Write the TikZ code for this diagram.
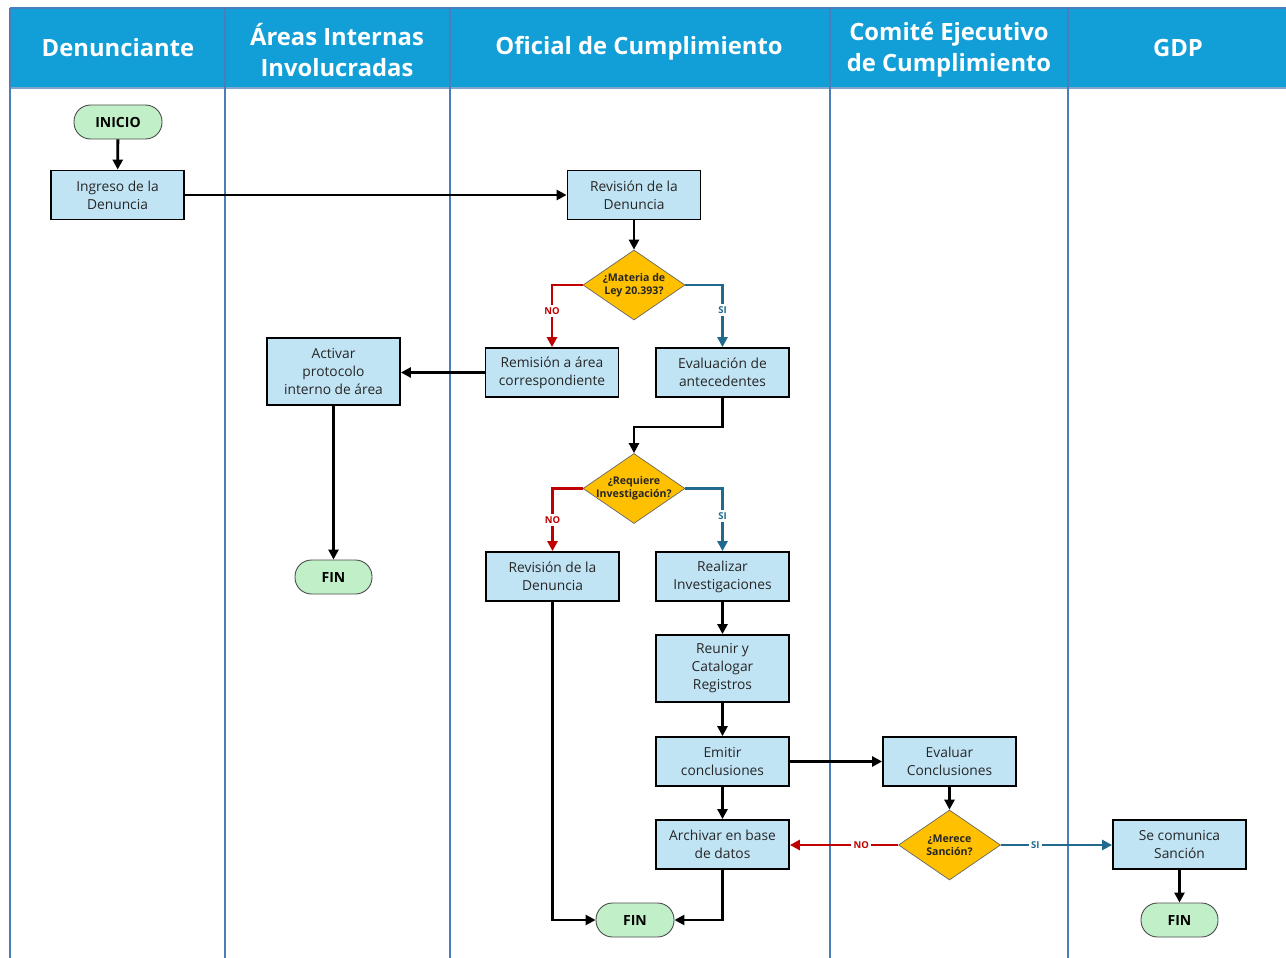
\documentclass[tikz,border=0pt]{standalone}
\usepackage{fontspec}
\setmainfont{Open Sans}
\usetikzlibrary{shapes.geometric,arrows.meta}
\definecolor{hdr}{HTML}{129FD7}
\definecolor{lane}{HTML}{4A7EBB}
\definecolor{boxf}{HTML}{C1E4F5}
\definecolor{termf}{HTML}{C1F0C8}
\definecolor{diaf}{HTML}{FFC000}
\definecolor{nored}{HTML}{C00000}
\definecolor{siblue}{HTML}{1F6A8E}
\definecolor{txtgray}{HTML}{262626}
\begin{document}
\begin{tikzpicture}[x=1pt,y=-1pt,
  hdrtext/.style={text=white, align=center, font=\bfseries\fontsize{23.8}{31}\selectfont},
  procbox/.style={draw=black, line width=1.8pt, fill=boxf, minimum width=133pt, minimum height=49pt, align=center, text=txtgray, inner sep=2pt, font=\fontsize{13.8}{18}\selectfont},
  term/.style={draw=black!70, line width=0.9pt, fill=termf, rounded corners=16.5pt, minimum height=34pt, inner sep=2pt, font=\bfseries\fontsize{14}{16}\selectfont},
  dia/.style={diamond, draw=black!60, line width=0.7pt, fill=diaf, minimum width=102pt, minimum height=70pt, inner sep=0pt},
  dtext/.style={align=center, text=txtgray, font=\bfseries\fontsize{10.6}{13}\selectfont},
  arr/.style={line width=2.8pt, draw=black, -{Triangle[length=10pt,width=10pt]}},
  noarr/.style={line width=2.8pt, draw=nored, -{Triangle[length=10pt,width=10pt]}},
  siarr/.style={line width=2.8pt, draw=siblue, -{Triangle[length=10pt,width=10pt]}},
  nolab/.style={fill=white, text=nored, inner sep=2.5pt, font=\bfseries\fontsize{9.5}{10}\selectfont},
  silab/.style={fill=white, text=siblue, inner sep=2.5pt, font=\bfseries\fontsize{9.5}{10}\selectfont},
  laneline/.style={draw=lane, line width=1.8pt}
]
\useasboundingbox (0,0) rectangle (1286,958);
% header and lanes
\fill[hdr] (10,8) rectangle (1286,88);
\draw[laneline] (10,8) -- (1286,8);
\draw[draw=lane!70, line width=1.5pt] (10,88) -- (1286,88);
\foreach \lx in {10,225,450,830,1068} {\draw[laneline] (\lx,8) -- (\lx,958);}
\node[hdrtext] (h1) at (118,48) {Denunciante};
\node[hdrtext] (h2) at (337,50) {Áreas Internas\\Involucradas};
\node[hdrtext] (h3) at (639,48) {Oficial de Cumplimiento};
\node[hdrtext] (h4) at (949,50) {Comité Ejecutivo\\de Cumplimiento};
\node[hdrtext] (h5) at (1178,48) {GDP};
% nodes
\node[term, minimum width=88pt] (inicio) at (118,122) {INICIO};
\node[procbox] (ingreso) at (117.5,195) {Ingreso de la\\Denuncia};
\node[procbox] (rev1) at (634,195) {Revisión de la\\Denuncia};
\node[dia, label={[dtext]center:{¿Materia de\\Ley 20.393?}}] (d1) at (634,285) {};
\node[procbox] (remision) at (552,372.5) {Remisión a área\\correspondiente};
\node[procbox] (evalant) at (722.5,372.5) {Evaluación de\\antecedentes};
\node[procbox, minimum height=67pt] (activar) at (333.5,371.5) {Activar\\protocolo\\interno de área};
\node[term, minimum width=77pt] (fin1) at (333.5,577) {FIN};
\node[dia, label={[dtext]center:{¿Requiere\\Investigación?}}] (d2) at (634,488.5) {};
\node[procbox] (rev2) at (552.5,576.5) {Revisión de la\\Denuncia};
\node[procbox] (realizar) at (722.5,576.5) {Realizar\\Investigaciones};
\node[procbox, minimum height=67pt] (reunir) at (722.5,668.5) {Reunir y\\Catalogar\\Registros};
\node[procbox] (emitir) at (722.5,761.5) {Emitir\\conclusiones};
\node[procbox] (archivar) at (722.5,844.5) {Archivar en base\\de datos};
\node[term, minimum width=78pt] (fin2) at (635,920) {FIN};
\node[procbox] (evaluar) at (949.5,761.5) {Evaluar\\Conclusiones};
\node[dia, label={[dtext]center:{¿Merece\\Sanción?}}] (d3) at (949.5,845) {};
\node[procbox] (secom) at (1179.5,844.5) {Se comunica\\Sanción};
\node[term, minimum width=77pt] (fin3) at (1179.5,920) {FIN};
% connectors
\draw[arr] (inicio) -- (ingreso);
\draw[arr] (ingreso) -- (rev1);
\draw[arr] (rev1) -- (d1);
\draw[noarr] (d1.west) -| node[pos=0.71, nolab] {NO} (remision.north);
\draw[siarr] (d1.east) -| node[pos=0.7, silab] {SI} (evalant.north);
\draw[arr] (remision.west) -- (activar.east |- remision.west);
\draw[arr] (activar) -- (fin1);
\draw[arr] (evalant.south) -- ++(0,29) -| (d2.north);
\draw[noarr] (d2.west) -| node[pos=0.75, nolab] {NO} (rev2.north);
\draw[siarr] (d2.east) -| node[pos=0.72, silab] {SI} (realizar.north);
\draw[arr] (realizar) -- (reunir);
\draw[arr] (reunir) -- (emitir);
\draw[arr] (emitir) -- (archivar);
\draw[arr] (rev2.south) |- (fin2.west);
\draw[arr] (archivar.south) |- (fin2.east);
\draw[arr] (emitir) -- (evaluar);
\draw[arr] (evaluar) -- (d3);
\draw[noarr] (d3.west) -- node[pos=0.34, nolab] {NO} (archivar.east |- d3.west);
\draw[siarr] (d3.east) -- node[pos=0.31, silab] {SI} (secom.west |- d3.east);
\draw[arr] (secom) -- (fin3);
\end{tikzpicture}
\end{document}
